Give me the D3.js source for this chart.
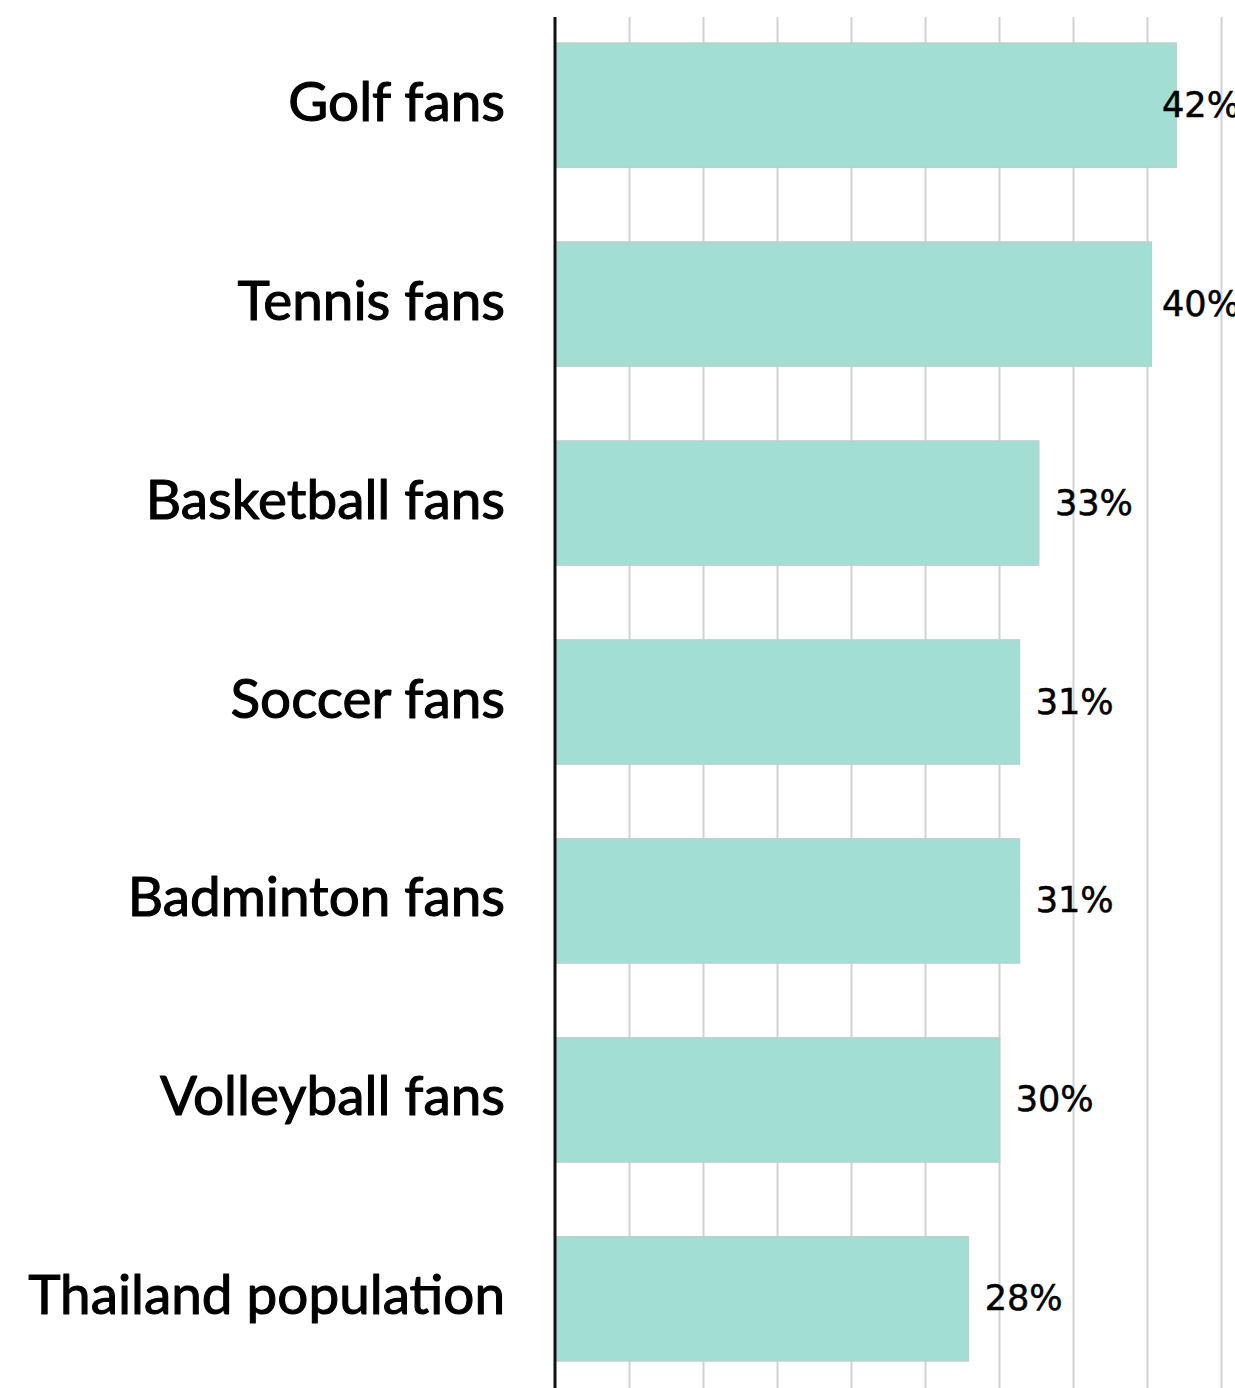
<!DOCTYPE html>
<html><head><meta charset="utf-8">
<script src="https://cdn.jsdelivr.net/npm/d3@7"></script>
<style>html,body{margin:0;padding:0;background:#fff;overflow:hidden}</style>
</head><body>
<svg id="chart" width="1235" height="1388"></svg>
<script>
const categories = ["Golf fans","Tennis fans","Basketball fans","Soccer fans","Badminton fans","Volleyball fans","Thailand population"];
const values = [42.0, 40.3, 32.7, 31.4, 31.4, 30.05, 27.95];
const labels = ["42%","40%","33%","31%","31%","30%","28%"];
const gridTicks = [0,5,10,15,20,25,30,35,40,45];

(function(){
const W = 1235, H = 1388;
const mLeft = 555, mTop = 17, mBottom = 1387;
const svg = d3.select("#chart");

const x = d3.scaleLinear().domain([0, 680/14.8]).range([mLeft, W]);
const y = d3.scaleBand().domain(categories).range([mTop, mBottom]).paddingInner(0.374).paddingOuter(0.13);

// gridlines
svg.append("g").selectAll("line").data(gridTicks.slice(1)).join("line")
  .attr("x1", d => Math.round(x(d)) + 0.5).attr("x2", d => Math.round(x(d)) + 0.5)
  .attr("y1", mTop).attr("y2", H)
  .attr("stroke", "#d2d2d2").attr("stroke-width", 2);

// bars
svg.append("g").selectAll("rect").data(values).join("rect")
  .attr("x", x(0)).attr("y", (d,i) => y(categories[i]))
  .attr("width", d => x(d) - x(0)).attr("height", y.bandwidth())
  .attr("fill", "#a2ded4").attr("stroke", "#c2c9c7").attr("stroke-width", 1);

// axis line
svg.append("line").attr("x1", mLeft).attr("x2", mLeft).attr("y1", mTop).attr("y2", H)
  .attr("stroke", "#111").attr("stroke-width", 3);

// category labels
const catFont = "Lato, 'Open Sans', sans-serif";
const cat = svg.append("g").selectAll("text").data(categories).join("text")
  .attr("x", 505).attr("y", d => y(d) + y.bandwidth()/2 + 15.5)
  .attr("text-anchor", "end").attr("font-family", catFont).attr("font-weight", 400)
  .attr("font-size", 50).attr("fill", "#000")
  .attr("stroke", "#000").attr("stroke-width", 1.1).attr("stroke-linejoin", "round")
  .text(d => d);
let wMax = 0; cat.each(function(){ wMax = Math.max(wMax, this.getComputedTextLength()); });
cat.attr("font-size", 50 * 477 / wMax);

// value labels
const valFont = "'DejaVu Sans', 'Noto Sans', sans-serif";
const vl = svg.append("g").selectAll("text").data(values).join("text")
  .attr("y", (d,i) => y(categories[i]) + y.bandwidth()/2 + 11.5)
  .attr("font-family", valFont).attr("font-size", 34).attr("font-weight", 400).attr("fill", "#000")
  .attr("stroke", "#000").attr("stroke-width", 0.5)
  .text((d,i) => labels[i]);
const w33 = vl.filter((d,i)=>i===2).node().getComputedTextLength();
const vfs = 34 * 78 / w33;
vl.attr("font-size", vfs);
vl.attr("x", function(d){
  const w = this.getComputedTextLength();
  const nx = x(d) + 16;
  return nx + w > W + 5 ? Math.min(nx, W + 5 - w) : nx;
});
})();
</script>
</body></html>
